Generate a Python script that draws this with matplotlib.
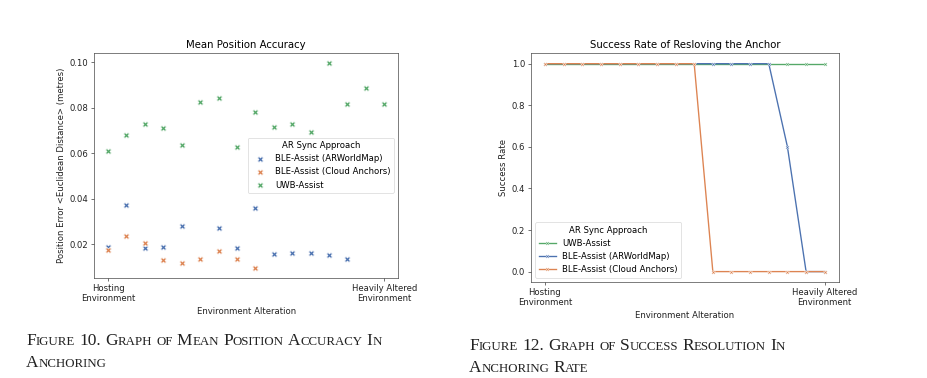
import numpy as np
import matplotlib
matplotlib.use("Agg")
import matplotlib.pyplot as plt
from matplotlib.offsetbox import TextArea, HPacker, VPacker, AnchoredOffsetbox

# dados
posicoes = np.arange(16)
rotulos_x = ["Hosting\nEnvironment", "Heavily Altered\nEnvironment"]
nan = np.nan

erro_uwb = [0.0610, 0.0679, 0.0730, 0.0711, 0.0637, 0.0824, 0.0842, 0.0626,
            0.0782, 0.0714, 0.0730, 0.0695, 0.0998, 0.0815, 0.0886, 0.0818]
erro_arworldmap = [0.0188, 0.0374, 0.0184, 0.0188, 0.0279, nan, 0.0272, 0.0182,
                   0.0357, 0.0158, 0.0160, 0.0162, 0.0152, 0.0133, nan, nan]
erro_cloud = [0.0174, 0.0237, 0.0204, 0.0128, 0.0118, 0.0133, 0.0169, 0.0134,
              0.0096, nan, nan, nan, nan, nan, nan, nan]

taxa_uwb = [1.0] * 16
taxa_arworldmap = [1.0] * 13 + [0.6, 0.0, 0.0]
taxa_cloud = [1.0] * 9 + [0.0] * 7

legenda_titulo = "AR Sync Approach"
nome_arwm = "BLE-Assist (ARWorldMap)"
nome_cloud = "BLE-Assist (Cloud Anchors)"
nome_uwb = "UWB-Assist"

azul, laranja, verde = "#4C72B0", "#DD8452", "#55A868"

k = 0.61  # escala do grafico colado no artigo
plt.rcParams["font.family"] = "DejaVu Sans"
plt.rcParams["font.size"] = 10 * k
plt.rcParams["axes.linewidth"] = 0.8 * k
for eixo in ("xtick", "ytick"):
    plt.rcParams[eixo + ".major.size"] = 3.5 * k
    plt.rcParams[eixo + ".major.width"] = 0.8 * k
    plt.rcParams[eixo + ".major.pad"] = 3.5 * k
    plt.rcParams[eixo + ".color"] = "#333333"
    plt.rcParams[eixo + ".labelcolor"] = "#222222"
plt.rcParams["axes.edgecolor"] = "#444444"
plt.rcParams["axes.labelcolor"] = "#222222"
plt.rcParams["axes.titlesize"] = 12 * k
plt.rcParams["axes.titlepad"] = 6 * k
plt.rcParams["axes.labelpad"] = 4 * k

fig = plt.figure(figsize=(9.28, 3.78), dpi=100)

# Grafico 1 - scatter
ax1 = fig.add_axes([0.1016, 0.2646, 0.3273, 0.5960])
tam = 18
ax1.scatter(posicoes, erro_arworldmap, marker="X", s=tam, color=azul,
            edgecolors="white", linewidths=0.75 * k, label=nome_arwm)
ax1.scatter(posicoes, erro_cloud, marker="X", s=tam, color=laranja,
            edgecolors="white", linewidths=0.75 * k, label=nome_cloud)
ax1.scatter(posicoes, erro_uwb, marker="X", s=tam, color=verde,
            edgecolors="white", linewidths=0.75 * k, label=nome_uwb)
ax1.set_title("Mean Position Accuracy")
ax1.set_xlabel("Environment Alteration")
ax1.set_ylabel("Position Error <Euclidean Distance> (metres)")
ax1.set_xticks([posicoes[0], posicoes[-1]])
ax1.set_xticklabels(rotulos_x)
ax1.set_yticks([0.02, 0.04, 0.06, 0.08, 0.10])
ax1.set_yticklabels(["0.02", "0.04", "0.06", "0.08", "0.10"])
leg1 = ax1.legend(title=legenda_titulo, loc="center right", fontsize=10 * k,
                  title_fontsize=10 * k, borderaxespad=0.5, handletextpad=0.8)
leg1.get_frame().set_linewidth(0.8 * k)

# Grafico 2 - linhas
ax2 = fig.add_axes([0.5722, 0.2540, 0.3316, 0.6050])
ax2.plot(posicoes, taxa_uwb, color=verde, marker="X", markersize=6 * k * 0.7,
         markeredgecolor="white", markeredgewidth=0.5 * k, linewidth=1.6 * k, label=nome_uwb)
ax2.plot(posicoes, taxa_arworldmap, color=azul, marker="X", markersize=6 * k * 0.7,
         markeredgecolor="white", markeredgewidth=0.5 * k, linewidth=1.6 * k, label=nome_arwm)
ax2.plot(posicoes, taxa_cloud, color=laranja, marker="X", markersize=6 * k * 0.7,
         markeredgecolor="white", markeredgewidth=0.5 * k, linewidth=1.6 * k, label=nome_cloud)
ax2.set_title("Success Rate of Resloving the Anchor")
ax2.set_xlabel("Environment Alteration")
ax2.set_ylabel("Success Rate")
ax2.set_xticks([posicoes[0], posicoes[-1]])
ax2.set_xticklabels(rotulos_x)
leg2 = ax2.legend(title=legenda_titulo, loc="lower left", fontsize=10 * k,
                  title_fontsize=10 * k)
leg2.get_frame().set_linewidth(0.8 * k)


# legendas do artigo em versalete
def versalete(texto, grande=12.5, pequeno=9.3):
    palavras = []
    for palavra in texto.split(" "):
        pedacos = []
        atual, tam_atual = "", None
        for c in palavra:
            t = pequeno if c.islower() else grande
            if tam_atual is not None and t != tam_atual:
                pedacos.append(TextArea(atual, textprops=dict(
                    fontsize=tam_atual, family="Liberation Serif", color="#222222")))
                atual = ""
            atual += c.upper()
            tam_atual = t
        pedacos.append(TextArea(atual, textprops=dict(
            fontsize=tam_atual, family="Liberation Serif", color="#222222")))
        palavras.append(HPacker(children=pedacos, align="baseline", pad=0, sep=0))
    return HPacker(children=palavras, align="baseline", pad=0, sep=3)


def legenda(linhas, x, y):
    caixa = VPacker(children=[versalete(l) for l in linhas], align="left", pad=0, sep=4)
    anc = AnchoredOffsetbox(loc="upper left", child=caixa, pad=0, borderpad=0,
                            frameon=False, bbox_to_anchor=(x, y),
                            bbox_transform=fig.transFigure)
    fig.add_artist(anc)


legenda(["Figure 10. Graph of Mean Position Accuracy In", "Anchoring"],
        26 / 928, 1 - 333 / 378)
legenda(["Figure 12. Graph of Success Resolution In", "Anchoring Rate"],
        469 / 928, 1 - 338 / 378)

fig.savefig("out.png", dpi=100)
